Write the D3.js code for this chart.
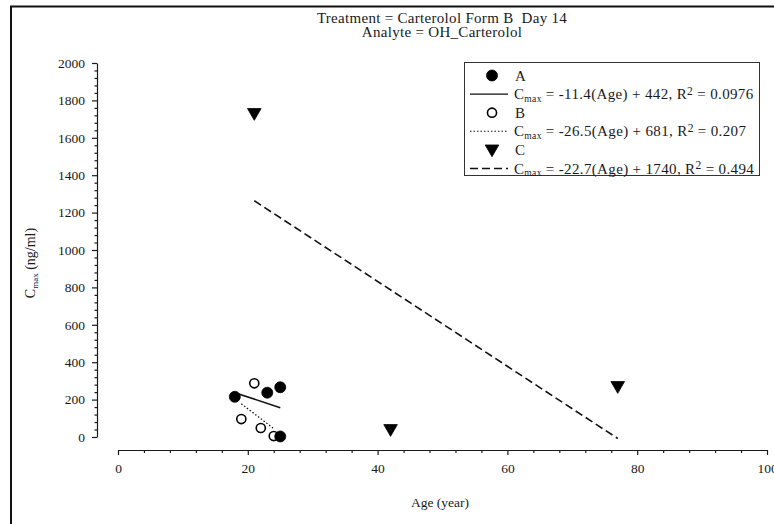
<!DOCTYPE html>
<html><head><meta charset="utf-8">
<script src="https://cdn.jsdelivr.net/npm/d3@7"></script>
<style>
body{margin:0;background:#fff}
svg{display:block}
text{font-family:"Liberation Serif","Times New Roman",serif;fill:#1a1a1a;white-space:pre}
</style>
</head><body>
<svg id="chart" width="774" height="524"></svg>
<script>
// Cmax of OH_Carterolol by subject age, per group
const groups = ["A", "B", "C"];
const agesA = [18, 23, 25, 25];
const cmaxA = [215, 237, 266, 3];
const agesB = [21, 19, 22, 24];
const cmaxB = [287, 96, 48, 5];
const agesC = [21, 42, 77];
const cmaxC = [1730, 40, 270];

// Linear fits per group: Cmax = slope*Age + intercept
const slopes = [-11.4, -26.5, -22.7];
const intercepts = [442, 681, 1740];
const r2Labels = ["0.0976", "0.207", "0.494"];
const fitAgeRange = [[18, 25], [19, 24], [21, 77]];

const xTicks = [0, 20, 40, 60, 80, 100];
const yTicks = [0, 200, 400, 600, 800, 1000, 1200, 1400, 1600, 1800, 2000];
const titleLines = ["Treatment = Carterolol Form B  Day 14", "Analyte = OH_Carterolol"];

const svg = d3.select("#chart");
const ink = "#1a1a1a";
const serif = "Liberation Serif";

const x = d3.scaleLinear().domain([0, 100]).range([118, 767]);
const y = d3.scaleLinear().domain([0, 2000]).range([437, 63]);
const xAxisY = 450, yAxisX = 97;

// outer frame
svg.append("rect").attr("x", 11).attr("y", 6.5).attr("width", 800).attr("height", 600)
  .attr("fill", "none").attr("stroke", "#111").attr("stroke-width", 2);

// titles
svg.selectAll("text.title").data(titleLines).join("text").attr("class", "title")
  .attr("x", 442).attr("y", (d, i) => 22.5 + i * 14.5).attr("text-anchor", "middle")
  .attr("font-size", 15).attr("letter-spacing", 0.3).text(d => d);

// x axis (offset below the plot)
const minorX = d3.range(0, 101, 4).filter(v => v % 20 !== 0);
svg.append("g").attr("transform", `translate(0,${xAxisY})`)
  .call(d3.axisBottom(x).tickValues(minorX).tickSize(3).tickFormat(""))
  .call(g => g.select(".domain").remove());
const gx = svg.append("g").attr("transform", `translate(0,${xAxisY})`)
  .attr("font-family", serif).attr("font-size", 13.5)
  .call(d3.axisBottom(x).tickValues(xTicks).tickSize(5).tickSizeOuter(0).tickPadding(8).tickFormat(d3.format("d")));
gx.attr("font-family", serif).attr("font-size", 13.5);
gx.selectAll("text").attr("fill", ink);

// y axis
const minorY = d3.range(0, 2001, 40).filter(v => v % 200 !== 0);
svg.append("g").attr("transform", `translate(${yAxisX},0)`)
  .call(d3.axisLeft(y).tickValues(minorY).tickSize(2.5).tickFormat(""))
  .call(g => g.select(".domain").remove());
const gy = svg.append("g").attr("transform", `translate(${yAxisX},0)`)
  .call(d3.axisLeft(y).tickValues(yTicks).tickSize(5).tickSizeOuter(0).tickPadding(7).tickFormat(d3.format("d")));
gy.attr("font-family", serif).attr("font-size", 13.5);
gy.selectAll("text").attr("fill", ink);

svg.selectAll(".tick line, .domain").attr("stroke", ink).attr("stroke-width", 1.2);

// axis titles
svg.append("text").attr("x", 440).attr("y", 507).attr("text-anchor", "middle")
  .attr("font-size", 13.5).text("Age (year)");
const yl = svg.append("text").attr("transform", `translate(35,263) rotate(-90)`)
  .attr("text-anchor", "middle").attr("font-size", 14);
yl.append("tspan").text("C");
yl.append("tspan").attr("font-size", 9).attr("dy", 3).text("max");
yl.append("tspan").attr("dy", -3).text(" (ng/ml)");

// line styles and markers per group
const dashes = [null, "1.5,2", "8,4"];
const markerPath = [
  d3.symbol(d3.symbolCircle, 95)(),
  d3.symbol(d3.symbolCircle, 65)(),
  d3.symbol(d3.symbolTriangle, 80)()
];
const markerFill = ["#000", "#fff", "#000"];
const markerRot = [0, 0, 180];

// regression lines
groups.forEach((g, i) => {
  const [a0, a1] = fitAgeRange[i];
  svg.append("line")
    .attr("x1", x(a0)).attr("y1", y(slopes[i] * a0 + intercepts[i]))
    .attr("x2", x(a1)).attr("y2", y(slopes[i] * a1 + intercepts[i]))
    .attr("stroke", "#111").attr("stroke-width", i === 1 ? 1.3 : 1.6)
    .attr("stroke-dasharray", dashes[i]);
});

// points (group B first so filled A markers sit on top)
const pts = [agesA.map((a, k) => [a, cmaxA[k]]), agesB.map((a, k) => [a, cmaxB[k]]), agesC.map((a, k) => [a, cmaxC[k]])];
[1, 0, 2].forEach(i => {
  svg.append("g").selectAll("path").data(pts[i]).join("path")
    .attr("d", markerPath[i])
    .attr("transform", d => `translate(${x(d[0])},${y(d[1]) + (i === 2 ? -1 : 0)}) rotate(${markerRot[i]})`)
    .attr("fill", markerFill[i]).attr("stroke", "#000").attr("stroke-width", i === 1 ? 1.6 : 0.8);
});

// legend
const lg = svg.append("g");
lg.append("rect").attr("x", 464.5).attr("y", 62.5).attr("width", 295).attr("height", 113)
  .attr("fill", "#fff").attr("stroke", "#333").attr("stroke-width", 1);
const rowH = 18.6, row0 = 75.5;
groups.forEach((g, i) => {
  const ym = row0 + i * 2 * rowH, yl2 = ym + rowH;
  lg.append("path").attr("d", markerPath[i])
    .attr("transform", `translate(492,${ym - (i === 2 ? 1 : 0)}) rotate(${markerRot[i]})`)
    .attr("fill", markerFill[i]).attr("stroke", "#000").attr("stroke-width", i === 1 ? 1.6 : 0.8);
  lg.append("text").attr("x", 515).attr("y", ym + 5).attr("font-size", 15).text(g);
  lg.append("line").attr("x1", 470).attr("x2", 508).attr("y1", yl2).attr("y2", yl2)
    .attr("stroke", "#111").attr("stroke-width", i === 1 ? 1.1 : 1.4).attr("stroke-dasharray", dashes[i]);
  const t = lg.append("text").attr("x", 514).attr("y", yl2 + 5).attr("font-size", 15).attr("letter-spacing", 0.35);
  t.append("tspan").text("C");
  t.append("tspan").attr("font-size", 9.5).attr("dy", 2.5).text("max");
  t.append("tspan").attr("dy", -2.5).text(` = ${slopes[i]}(Age) + ${intercepts[i]}, R`);
  t.append("tspan").attr("font-size", 11.5).attr("dy", -4.5).text("2");
  t.append("tspan").attr("dy", 4.5).text(` = ${r2Labels[i]}`);
});
</script>
</body></html>
